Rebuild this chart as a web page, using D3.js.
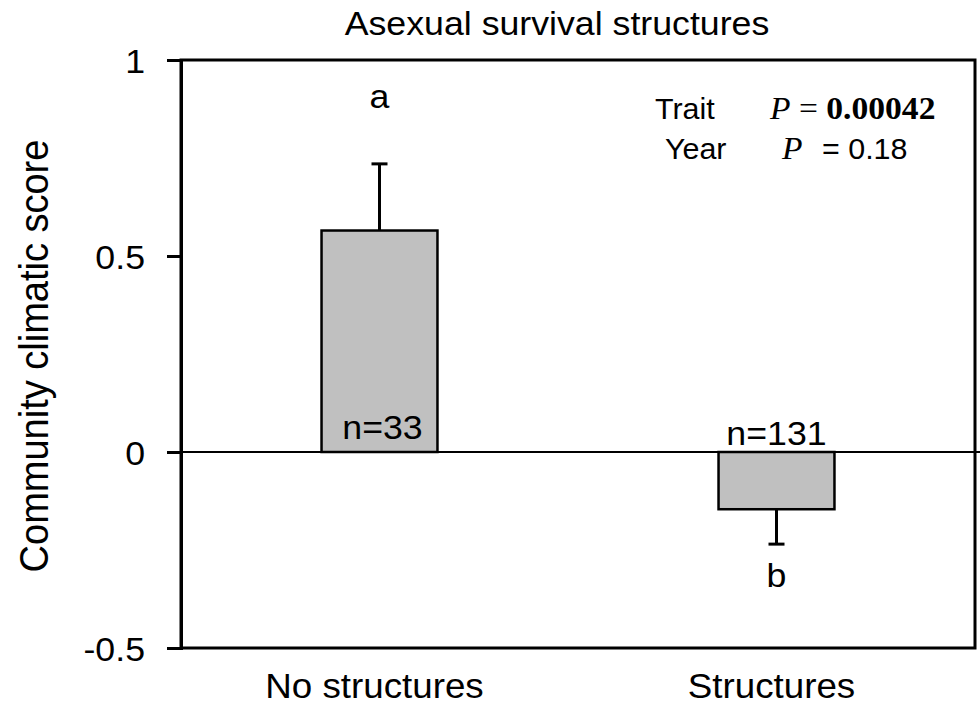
<!DOCTYPE html>
<html lang="en">
<head>
  <meta charset="UTF-8">
  <title>Asexual survival structures</title>
  <script src="https://d3js.org/d3.v7.min.js"></script>
  <style>
    body { margin: 0; background: #fff; }
    text { font-family: Arial, "Liberation Sans", sans-serif; fill: #000; }
  </style>
</head>
<body>
  <div id="viz"></div>

  <script>
    // Data
    const categories = ["No structures", "Structures"];
    const means = [0.565, -0.146];
    const errors = [0.170, 0.089];          // one-sided error bar length
    const sigLetters = ["a", "b"];
    const nLabels = ["n=33", "n=131"];
    const yTicks = [-0.5, 0, 0.5, 1];

    // the source figure is slightly wider than its text, so stretch text a little
    const sx = 1.05;

    const actualWidth = 980, actualHeight = 708;
    const margin = { top: 60, right: 5, bottom: 60, left: 181 },
          width = actualWidth - margin.left - margin.right,
          height = actualHeight - margin.top - margin.bottom;

    const root = d3.select('#viz')
      .append('svg')
        .attr('width', actualWidth)
        .attr('height', actualHeight);

    const svg = root.append('g')
        .attr('transform', `translate(${margin.left}, ${margin.top})`);

    const x = d3.scaleBand()
      .domain(categories)
      .range([0, width])
      .paddingInner(0.708)
      .paddingOuter(0.354);
    const y = d3.scaleLinear()
      .domain([-0.5, 1])
      .range([height, 0]);

    // helper: text stretched horizontally like in the source image
    function label(parent, px, py, txt, size, anchor) {
      return parent.append('text')
        .attr('transform', `translate(${px}, ${py}) scale(${sx}, 1)`)
        .attr('text-anchor', anchor || 'middle')
        .style('font-size', size + 'px')
        .text(txt);
    }

    // frame
    svg.append('rect')
      .attr('width', width)
      .attr('height', height)
      .attr('fill', 'none')
      .attr('stroke', '#000')
      .attr('stroke-width', 3);

    // zero line
    svg.append('line')
      .attr('x1', 0).attr('x2', width + margin.right)
      .attr('y1', y(0)).attr('y2', y(0))
      .attr('stroke', '#000')
      .attr('stroke-width', 2);

    // y axis
    const yAxis = svg.append('g')
      .call(d3.axisLeft(y)
        .tickValues(yTicks)
        .tickSize(14)
        .tickPadding(22)
        .tickFormat(d => String(d)));
    yAxis.select('.domain').attr('stroke-width', 3);
    yAxis.selectAll('.tick line').attr('stroke-width', 3);
    yAxis.selectAll('.tick text')
      .attr('font-family', null)
      .attr('font-size', null)
      .attr('dy', null)
      .attr('x', null)
      .attr('transform', `translate(-36, 12) scale(${sx}, 1)`)
      .style('font-size', '34px');

    // bars
    svg.selectAll('rect.bar')
      .data(categories)
      .join('rect')
        .attr('class', 'bar')
        .attr('x', d => x(d))
        .attr('width', x.bandwidth())
        .attr('y', (d, i) => y(Math.max(0, means[i])))
        .attr('height', (d, i) => Math.abs(y(means[i]) - y(0)))
        .attr('fill', '#c0c0c0')
        .attr('stroke', '#000')
        .attr('stroke-width', 2.5);

    // error bars (pointing away from zero)
    const errEnd = (i) => means[i] + Math.sign(means[i]) * errors[i];
    const cx = d => x(d) + x.bandwidth() / 2;
    const err = svg.selectAll('g.err')
      .data(categories)
      .join('g')
        .attr('class', 'err');
    err.append('line')
      .attr('x1', cx).attr('x2', cx)
      .attr('y1', (d, i) => y(means[i]))
      .attr('y2', (d, i) => y(errEnd(i)))
      .attr('stroke', '#000').attr('stroke-width', 3);
    err.append('line')
      .attr('x1', d => cx(d) - 8).attr('x2', d => cx(d) + 8)
      .attr('y1', (d, i) => y(errEnd(i)))
      .attr('y2', (d, i) => y(errEnd(i)))
      .attr('stroke', '#000').attr('stroke-width', 3);

    // significance letters
    categories.forEach((c, i) => {
      const ly = means[i] > 0 ? y(errEnd(i)) - 56 : y(errEnd(i)) + 43;
      label(svg, cx(c), ly, sigLetters[i], 34);
    });

    // sample sizes
    categories.forEach((c, i) => {
      const ny = means[i] > 0 ? y(0) - 13 : y(0) - 7;
      label(svg, cx(c) + (means[i] > 0 ? 3 : 0), ny, nLabels[i], 34);
    });

    // category labels
    categories.forEach(c => {
      label(root, margin.left + cx(c) - 5, 698, c, 35);
    });

    // title
    label(root, 557, 35, "Asexual survival structures", 34);

    // y axis title
    root.append('text')
      .attr('transform', `translate(48, 356) scale(${sx}, 1) rotate(-90)`)
      .attr('text-anchor', 'middle')
      .style('font-size', '38px')
      .text("Community climatic score");

    // statistics box
    const serif = '"Times New Roman", "Liberation Serif", serif';
    const stats = root.append('g');
    label(stats, 655, 119, "Trait", 29, 'start');
    label(stats, 770, 119, "", 32, 'start')
      .style('font-family', serif)
      .call(t => {
        t.append('tspan').style('font-style', 'italic').text("P");
        t.append('tspan').text(" = ");
        t.append('tspan').style('font-weight', 'bold').text("0.00042");
      });
    label(stats, 665, 159, "Year", 29, 'start');
    label(stats, 782, 159, "P", 32, 'start')
      .style('font-family', serif)
      .style('font-style', 'italic');
    label(stats, 822, 159, "= 0.18", 29, 'start');
  </script>
</body>
</html>
